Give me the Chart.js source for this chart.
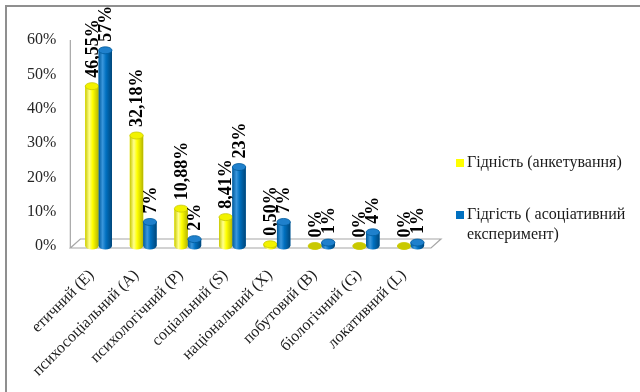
<!DOCTYPE html>
<html>
<head>
<meta charset="utf-8">
<style>
  html, body { margin: 0; padding: 0; background: #fff; }
  #wrap { width: 640px; height: 392px; position: relative; }
</style>
<script src="https://cdn.jsdelivr.net/npm/chart.js@4.4.1/dist/chart.umd.min.js"></script>
</head>
<body>
<div id="wrap"><canvas id="c" width="640" height="392"></canvas></div>
<script>
// Categories of meaning and the two series (percent)
const categories = ['етичний (Е)', 'психосоціальний (А)', 'психологічний (Р)', 'соціальний (S)',
                    'національний (Х)', 'побутовий (В)', 'біологічний (G)', 'локативний (L)'];
const surveyValues = [46.55, 32.18, 10.88, 8.41, 0.50, 0, 0, 0];
const experimentValues = [57, 7, 2, 23, 7, 1, 4, 1];
const seriesNames = ['Гідність (анкетування)', ['Гідгість ( асоціативний', 'експеримент)']];
const yTicks = [0, 10, 20, 30, 40, 50, 60];

const SERIF = '"Liberation Serif", "Times New Roman", serif';
const palette = [
  { base: '#FFFF00', dark: '#B5B500', light: '#FFFF8C', top: '#F2F200', edge: '#C9C900' },
  { base: '#0070C0', dark: '#00467A', light: '#3A97DD', top: '#1F80CC', edge: '#005A9C' }
];

function fmtSurvey(v) { return v === 0 ? '0%' : v.toFixed(2).replace('.', ',') + '%'; }
function fmtExperiment(v) { return Math.round(v) + '%'; }
const formatters = [fmtSurvey, fmtExperiment];

// White page with the grey frame lines
const framePlugin = {
  id: 'frame',
  beforeDraw(chart) {
    const c = chart.ctx;
    c.save();
    c.fillStyle = '#fff';
    c.fillRect(0, 0, chart.width, chart.height);
    c.strokeStyle = '#8f8f8f';
    c.lineWidth = 2;
    c.beginPath();
    c.moveTo(6, chart.height);
    c.lineTo(6, 6);
    c.lineTo(chart.width, 6);
    c.stroke();
    c.restore();
  }
};

// Floor plane and vertical axis line
const floorPlugin = {
  id: 'floor',
  beforeDatasetsDraw(chart) {
    const c = chart.ctx, a = chart.chartArea;
    const y0 = chart.scales.y.getPixelForValue(0);
    const axisX = a.left - 6;
    c.save();
    c.strokeStyle = '#a6a6a6';
    c.lineWidth = 1.2;
    c.beginPath();
    c.moveTo(axisX, a.top);
    c.lineTo(axisX, y0 + 2);
    c.stroke();
    c.fillStyle = '#ffffff';
    c.beginPath();
    c.moveTo(axisX, y0 + 2);
    c.lineTo(a.right - 2, y0 + 2);
    c.lineTo(a.right + 8, y0 - 7);
    c.lineTo(axisX + 10, y0 - 7);
    c.closePath();
    c.fill();
    c.stroke();
    c.restore();
  }
};

// Cylinder shading over each bar, plus rotated value labels
const cylinderPlugin = {
  id: 'cylinders',
  afterDatasetsDraw(chart) {
    const c = chart.ctx;
    const ry = 3.5;
    chart.data.datasets.forEach((ds, di) => {
      const meta = chart.getDatasetMeta(di);
      const col = palette[di];
      meta.data.forEach((bar, i) => {
        const p = bar.getProps(['x', 'y', 'base', 'width'], true);
        const w = p.width, x0 = p.x - w / 2, rx = w / 2;
        const g = c.createLinearGradient(x0, 0, x0 + w, 0);
        g.addColorStop(0, col.edge);
        g.addColorStop(0.3, col.light);
        g.addColorStop(0.55, col.base);
        g.addColorStop(1, col.dark);
        c.save();
        // body with rounded base
        c.fillStyle = g;
        c.beginPath();
        c.moveTo(x0, p.y);
        c.lineTo(x0, p.base);
        c.ellipse(p.x, p.base, rx, ry, 0, Math.PI, 0, true);
        c.lineTo(x0 + w, p.y);
        c.closePath();
        c.fill();
        // top cap
        c.fillStyle = ds.data[i] === 0 ? col.edge : col.top;
        c.strokeStyle = col.edge;
        c.lineWidth = 0.8;
        c.beginPath();
        c.ellipse(p.x, p.y, rx, ry, 0, 0, Math.PI * 2);
        c.fill();
        c.stroke();
        c.restore();

        // value label, rotated to read upward
        c.save();
        c.translate(p.x + 1, p.y - ry - 5);
        c.rotate(-Math.PI / 2);
        c.font = 'bold 18px ' + SERIF;
        c.fillStyle = '#000';
        c.textAlign = 'left';
        c.textBaseline = 'middle';
        c.fillText(formatters[di](ds.data[i]), 0, 0);
        c.restore();
      });
    });
  }
};

// Legend to the right of the plot, with a wrapped second entry
const legendPlugin = {
  id: 'sideLegend',
  afterDraw(chart) {
    const c = chart.ctx;
    const x = 456, rows = [163, 215];
    c.save();
    c.font = '16px ' + SERIF;
    c.textBaseline = 'middle';
    c.textAlign = 'left';
    chart.data.datasets.forEach((ds, di) => {
      c.fillStyle = palette[di].base;
      c.fillRect(x, rows[di] - 4, 8, 8);
      c.fillStyle = '#1a1a1a';
      const lines = Array.isArray(ds.label) ? ds.label : [ds.label];
      lines.forEach((t, li) => c.fillText(t, x + 11, rows[di] + li * 20));
    });
    c.restore();
  }
};

new Chart(document.getElementById('c'), {
  type: 'bar',
  data: {
    labels: categories,
    datasets: [
      { label: seriesNames[0], data: surveyValues, backgroundColor: palette[0].base },
      { label: seriesNames[1], data: experimentValues, backgroundColor: palette[1].base }
    ]
  },
  options: {
    responsive: false,
    animation: false,
    devicePixelRatio: 1,
    layout: { padding: { top: 40, right: 207, bottom: 10, left: 7 } },
    datasets: { bar: { categoryPercentage: 0.6, barPercentage: 1.0 } },
    plugins: { legend: { display: false }, tooltip: { enabled: false } },
    scales: {
      x: {
        grid: { display: false, drawTicks: false },
        border: { display: false },
        // rotated labels may hang past the plot edges; keep the plot size fixed
        afterFit(scale) { scale.paddingLeft = 0; scale.paddingRight = 0; scale.height = 136; },
        ticks: {
          minRotation: 45, maxRotation: 45, padding: 20, labelOffset: -7, color: '#1a1a1a',
          font: { family: SERIF, size: 16 }
        }
      },
      y: {
        min: 0, max: 60,
        afterBuildTicks(scale) { scale.ticks = yTicks.map(v => ({ value: v })); },
        grid: { display: false, drawTicks: false },
        border: { display: false },
        ticks: {
          padding: 20, color: '#262626',
          font: { family: SERIF, size: 16 },
          callback: v => v + '%'
        }
      }
    }
  },
  plugins: [framePlugin, floorPlugin, cylinderPlugin, legendPlugin]
});
</script>
</body>
</html>
